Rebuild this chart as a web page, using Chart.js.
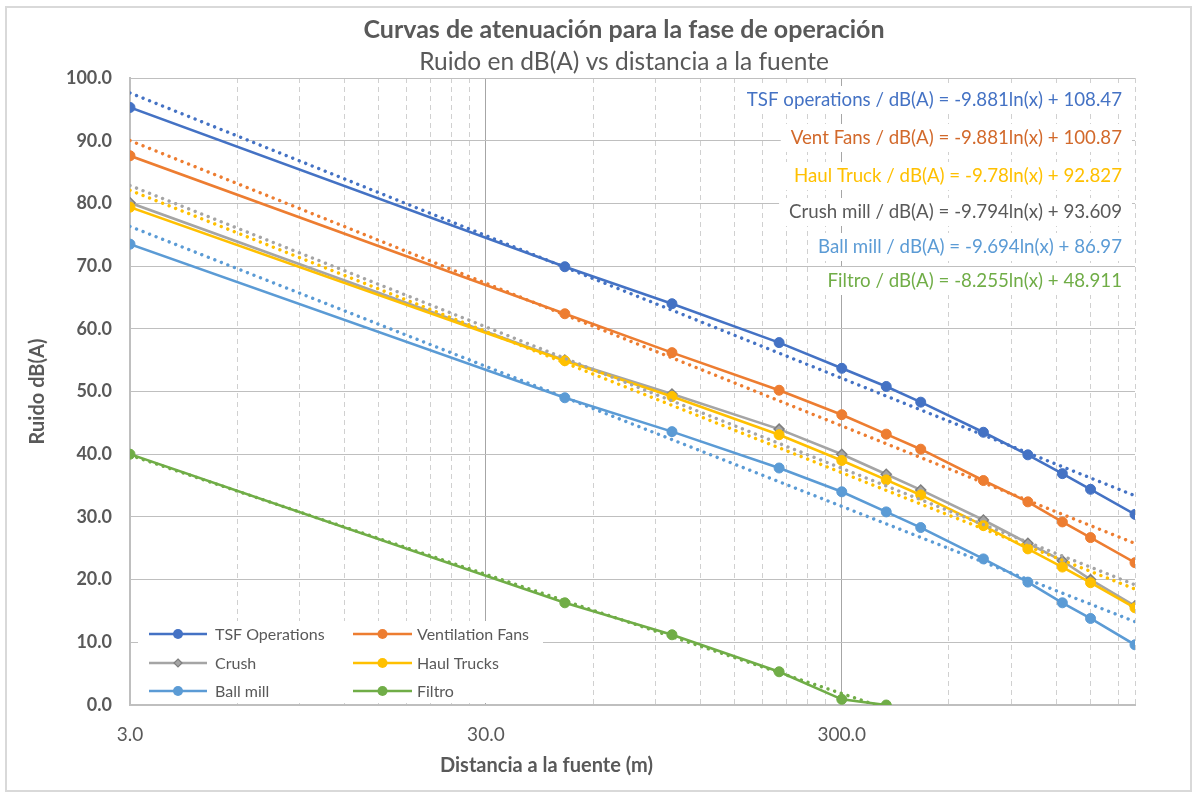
<!DOCTYPE html>
<html>
<head>
<meta charset="utf-8">
<title>Curvas de atenuación</title>
<script src="https://cdn.jsdelivr.net/npm/chart.js@4.4.1/dist/chart.umd.min.js"></script>
<style>
  html, body { margin: 0; padding: 0; background: #ffffff; }
  #wrap { width: 1195px; height: 794px; position: relative; }
  canvas { display: block; }
</style>
</head>
<body>
<div id="wrap"><canvas id="chart" width="1195" height="794"></canvas></div>
<script>
// Distances to the source (m)
const distances = [3, 50, 100, 200, 300, 400, 500, 750, 1000, 1250, 1500, 2000];
const filtroDistances = [3, 50, 100, 200, 300, 400];

// Noise level dB(A) per source
const tsfOperations   = [95.3, 69.9, 64.0, 57.8, 53.7, 50.8, 48.3, 43.5, 39.9, 36.9, 34.4, 30.4];
const ventilationFans = [87.6, 62.4, 56.2, 50.2, 46.3, 43.2, 40.8, 35.8, 32.4, 29.2, 26.7, 22.7];
const crush           = [80.1, 55.0, 49.6, 44.0, 40.0, 36.8, 34.3, 29.5, 25.8, 23.0, 20.0, 15.8];
const haulTrucks      = [79.4, 54.9, 49.2, 43.1, 39.0, 35.9, 33.5, 28.6, 24.9, 22.0, 19.5, 15.5];
const ballMill        = [73.5, 49.0, 43.6, 37.8, 34.0, 30.8, 28.3, 23.3, 19.6, 16.3, 13.8, 9.6];
const filtro          = [40.0, 16.3, 11.2, 5.3, 0.9, 0.0];

const seriesNames  = ['TSF Operations', 'Ventilation Fans', 'Crush', 'Haul Trucks', 'Ball mill', 'Filtro'];
const seriesColors = ['#4472C4', '#ED7D31', '#A5A5A5', '#FFC000', '#5B9BD5', '#70AD47'];

// Logarithmic trendlines: dB(A) = slope * ln(x) + intercept
const trendSlopes     = [-9.881, -9.881, -9.794, -9.78, -9.694, -8.255];
const trendIntercepts = [108.47, 100.87, 93.609, 92.827, 86.97, 48.911];

// Equation labels (listed top to bottom) and their colours
const equationLabels = [
  'TSF operations / dB(A) = -9.881ln(x) + 108.47',
  'Vent Fans / dB(A) = -9.881ln(x) + 100.87',
  'Haul Truck / dB(A) = -9.78ln(x) + 92.827',
  'Crush mill / dB(A) = -9.794ln(x) + 93.609',
  'Ball mill / dB(A) = -9.694ln(x) + 86.97',
  'Filtro / dB(A) = -8.255ln(x) + 48.911'
];
const equationColors = ['#4472C4', '#D2692B', '#FFC000', '#595959', '#5B9BD5', '#70AD47'];

// Axis ticks
const xMajorTicks = [3, 30, 300];
const xTickValues = [3, 6, 9, 12, 15, 18, 21, 24, 27,
                     30, 60, 90, 120, 150, 180, 210, 240, 270,
                     300, 600, 900, 1200, 1500, 1800, 2000];
const yTickStep = 10;

const FONT = 'Lato, "Open Sans", sans-serif';
const TEXT_GREY = '#595959';

const seriesValues = [tsfOperations, ventilationFans, crush, haulTrucks, ballMill, filtro];
const seriesX = [distances, distances, distances, distances, distances, filtroDistances];

const datasets = [];
seriesValues.forEach((vals, i) => {
  const isCrush = i === 2;
  datasets.push({
    label: seriesNames[i],
    data: vals.map((v, k) => ({ x: seriesX[i][k], y: v })),
    borderColor: seriesColors[i],
    backgroundColor: seriesColors[i],
    borderWidth: 2.6,
    pointStyle: isCrush ? 'rectRot' : 'circle',
    pointRadius: 5,
    pointBackgroundColor: seriesColors[i],
    pointBorderColor: isCrush ? '#7F7F7F' : seriesColors[i],
    pointBorderWidth: isCrush ? 1.5 : 1,
    tension: 0,
    order: 20 - i
  });
});
seriesValues.forEach((vals, i) => {
  datasets.push({
    label: seriesNames[i] + ' (tendencia)',
    data: seriesX[i].map(d => ({ x: d, y: trendSlopes[i] * Math.log(d) + trendIntercepts[i] })),
    borderColor: seriesColors[i],
    borderWidth: 3.4,
    borderDash: [0.01, 7],
    borderCapStyle: 'round',
    pointRadius: 0,
    tension: 0,
    order: 10 - i
  });
});

// Chart frame, titles and axis names
const decorPlugin = {
  id: 'decor',
  beforeDraw(chart) {
    const ctx = chart.ctx;
    ctx.save();
    ctx.fillStyle = '#ffffff';
    ctx.fillRect(0, 0, chart.width, chart.height);
    ctx.strokeStyle = '#D9D9D9';
    ctx.lineWidth = 2;
    ctx.strokeRect(6, 7, 1185, 784);
    ctx.restore();
  },
  afterDraw(chart) {
    const ctx = chart.ctx;
    ctx.save();
    ctx.fillStyle = TEXT_GREY;
    ctx.textAlign = 'center';
    ctx.textBaseline = 'middle';
    ctx.font = 'bold 25px ' + FONT;
    ctx.fillText('Curvas de atenuación para la fase de operación', 624, 30);
    ctx.font = '24.5px ' + FONT;
    ctx.fillText('Ruido en dB(A) vs distancia a la fuente', 624, 62);

    ctx.font = 'bold 20px ' + FONT;
    ctx.textAlign = 'left';
    ctx.fillText('Distancia a la fuente (m)', 440, 766);

    const area = chart.chartArea;
    ctx.translate(38, (area.top + area.bottom) / 2);
    ctx.rotate(-Math.PI / 2);
    ctx.textAlign = 'center';
    ctx.fillText('Ruido dB(A)', 0, 0);
    ctx.restore();
  }
};

// Legend box inside the plot and trendline equation labels
const overlayPlugin = {
  id: 'overlay',
  afterDatasetsDraw(chart) {
    const ctx = chart.ctx;
    ctx.save();

    // equation labels
    ctx.font = '18.7px ' + FONT;
    ctx.textBaseline = 'middle';
    ctx.textAlign = 'right';
    const eqRight = 1122;
    const eqRows = [100, 138, 176, 212, 247, 281];
    equationLabels.forEach((t, i) => {
      const w = ctx.measureText(t).width;
      ctx.fillStyle = '#ffffff';
      ctx.fillRect(eqRight - w - 10, eqRows[i] - 14, w + 20, 28);
      ctx.fillStyle = equationColors[i];
      ctx.fillText(t, eqRight, eqRows[i]);
    });

    // legend
    ctx.fillStyle = '#ffffff';
    ctx.fillRect(138, 621, 405, 82);
    const rows = [634, 663, 691];
    const cols = [{ x0: 149, x1: 207, tx: 215 }, { x0: 353, x1: 412, tx: 417 }];
    ctx.font = '16px ' + FONT;
    ctx.textAlign = 'left';
    seriesNames.forEach((name, i) => {
      const c = cols[i % 2];
      const y = rows[Math.floor(i / 2)];
      const mx = (c.x0 + c.x1) / 2;
      ctx.strokeStyle = seriesColors[i];
      ctx.lineWidth = 2.6;
      ctx.beginPath();
      ctx.moveTo(c.x0, y);
      ctx.lineTo(c.x1, y);
      ctx.stroke();
      ctx.fillStyle = seriesColors[i];
      ctx.beginPath();
      if (i === 2) {
        const r = 4;
        ctx.moveTo(mx, y - r); ctx.lineTo(mx + r, y); ctx.lineTo(mx, y + r); ctx.lineTo(mx - r, y); ctx.closePath();
        ctx.fill();
        ctx.strokeStyle = '#7F7F7F';
        ctx.lineWidth = 1.2;
        ctx.stroke();
      } else {
        ctx.arc(mx, y, 5, 0, Math.PI * 2);
        ctx.fill();
      }
      ctx.fillStyle = TEXT_GREY;
      ctx.fillText(name, c.tx, y + 1);
    });
    ctx.restore();
  }
};

new Chart(document.getElementById('chart'), {
  type: 'line',
  data: { datasets },
  plugins: [decorPlugin, overlayPlugin],
  options: {
    responsive: false,
    animation: false,
    layout: { padding: { top: 78, right: 60, left: 0, bottom: 0 } },
    plugins: {
      legend: { display: false },
      tooltip: { enabled: false },
      title: { display: false }
    },
    scales: {
      x: {
        type: 'logarithmic',
        min: 3,
        max: 2000,
        afterBuildTicks: s => { s.ticks = xTickValues.map(v => ({ value: v })); },
        afterFit: s => { s.height = 89; },
        ticks: {
          autoSkip: false,
          maxRotation: 0,
          padding: 18,
          color: TEXT_GREY,
          font: { family: FONT, size: 19 },
          callback: v => (xMajorTicks.includes(v) ? v.toFixed(1) : '')
        },
        grid: {
          drawTicks: false,
          lineWidth: 1,
          color: c => (c.tick && xMajorTicks.includes(c.tick.value) ? '#A6A6A6' : '#D0D0D0')
        },
        border: {
          display: true,
          color: '#BFBFBF',
          width: 2,
          dash: c => (c.tick && !xMajorTicks.includes(c.tick.value) ? [5, 4] : [])
        }
      },
      y: {
        min: 0,
        max: 100,
        afterFit: s => { s.width = 130; },
        ticks: {
          stepSize: yTickStep,
          padding: 18,
          color: TEXT_GREY,
          font: { family: FONT, size: 18, weight: 'bold' },
          callback: v => v.toFixed(1)
        },
        grid: { drawTicks: false, color: '#BFBFBF', lineWidth: 1 },
        border: { display: true, color: '#BFBFBF', width: 2 }
      }
    }
  }
});
</script>
</body>
</html>
